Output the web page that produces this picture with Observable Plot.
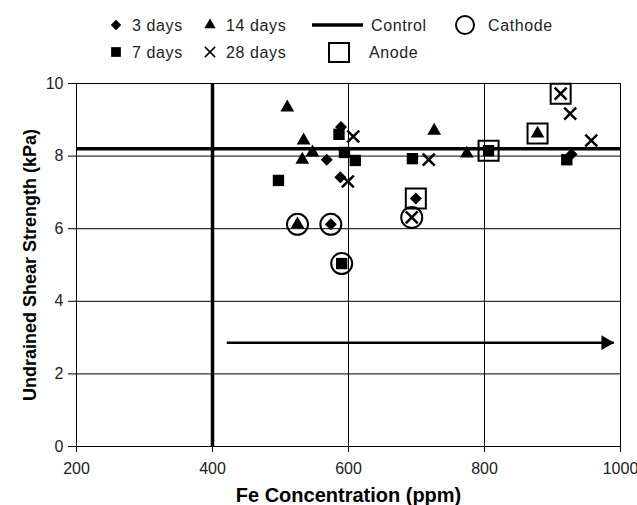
<!DOCTYPE html>
<html>
<head>
<meta charset="utf-8">
<script src="https://cdn.jsdelivr.net/npm/d3@7"></script>
<script src="https://cdn.jsdelivr.net/npm/@observablehq/plot@0.6"></script>
<style>
  html, body { margin: 0; padding: 0; background: #fff; }
  #wrap { position: relative; width: 637px; height: 505px; font-family: "Liberation Sans", Arial, sans-serif; }
  #wrap > svg { position: absolute; left: 0; top: 0; }
</style>
</head>
<body>
<div id="wrap"></div>
<script>
// Axis ticks
const xTicks = [200, 400, 600, 800, 1000];
const yTicks = [0, 2, 4, 6, 8, 10];

// Fe concentration (ppm) and undrained shear strength (kPa) by curing time
const fe3 = [568, 588, 589, 574, 699, 928];
const kpa3 = [7.9, 7.42, 8.8, 6.12, 6.83, 8.05];

const fe7 = [497, 586, 594, 610, 694, 590, 806, 921];
const kpa7 = [7.33, 8.6, 8.1, 7.88, 7.93, 5.04, 8.15, 7.9];

const fe14 = [510, 534, 547, 532, 525, 726, 774, 878];
const kpa14 = [9.34, 8.43, 8.1, 7.9, 6.12, 8.7, 8.07, 8.62];

const fe28 = [607, 599, 718, 693, 912, 926, 957];
const kpa28 = [8.54, 7.3, 7.9, 6.31, 9.72, 9.17, 8.43];

// Samples taken near the cathode and the anode
const cathodeFe = [525, 574, 590, 693];
const cathodeKpa = [6.12, 6.12, 5.04, 6.31];
const anodeFe = [699, 806, 878, 912];
const anodeKpa = [6.83, 8.15, 8.62, 9.72];

// Reference levels
const controlKpa = 8.2;
const initialFe = 400;
const trendFe = [421, 990];
const trendKpa = 2.86;

const toRows = (xs, ys) => xs.map((x, i) => ({x, y: ys[i]}));
const tickText = {fill: "#222", fontSize: 16, letterSpacing: "0.4px"};

const chart = Plot.plot({
  width: 637,
  height: 505,
  marginLeft: 76,
  marginRight: 17,
  marginTop: 83,
  marginBottom: 59,
  style: {fontFamily: "'Liberation Sans', Arial, sans-serif", fontSize: "16px", background: "#fff", color: "#222"},
  x: {domain: [200, 1000], ticks: xTicks, label: null},
  y: {domain: [0, 10], ticks: yTicks, label: null},
  marks: [
    Plot.gridX(xTicks.filter(d => d > 200), {stroke: "#000", strokeOpacity: 1, strokeWidth: 1}),
    Plot.gridY(yTicks.filter(d => d > 0), {stroke: "#000", strokeOpacity: 1, strokeWidth: 1}),
    Plot.axisX({ticks: xTicks, tickSize: 6, tickPadding: 10, stroke: "#000", label: null, tickFormat: d => String(d), ...tickText}),
    Plot.axisY({ticks: yTicks, tickSize: 8, tickPadding: 5, stroke: "#000", label: null, tickFormat: d => String(d), ...tickText}),
    Plot.ruleY([0], {stroke: "#000"}),
    Plot.ruleX([200], {stroke: "#000"}),
    Plot.ruleX([initialFe], {stroke: "#000", strokeWidth: 3.5}),
    Plot.ruleY([controlKpa], {stroke: "#000", strokeWidth: 3.5}),
    // trend arrow
    Plot.link([{x1: trendFe[0], x2: trendFe[1], y: trendKpa}], {x1: "x1", x2: "x2", y1: "y", y2: "y", stroke: "#000", strokeWidth: 2.5}),
    Plot.dot([{x: trendFe[1], y: trendKpa}], {x: "x", y: "y", symbol: "triangle", r: 5.5, rotate: 90, dx: -8, fill: "#000", stroke: "none"}),
    // data
    Plot.dot(toRows(fe3, kpa3), {x: "x", y: "y", symbol: "diamond2", r: 5.4, fill: "#000", stroke: "none"}),
    Plot.dot(toRows(fe7, kpa7), {x: "x", y: "y", symbol: "square", r: 6.4, fill: "#000", stroke: "none"}),
    Plot.dot(toRows(fe14, kpa14), {x: "x", y: "y", symbol: "triangle", r: 5.1, fill: "#000", stroke: "none"}),
    Plot.dot(toRows(fe28, kpa28), {x: "x", y: "y", symbol: "times", r: 5.5, fill: "none", stroke: "#000", strokeWidth: 2.5}),
    Plot.dot(toRows(cathodeFe, cathodeKpa), {x: "x", y: "y", symbol: "circle", r: 10.5, fill: "none", stroke: "#000", strokeWidth: 2}),
    Plot.dot(toRows(anodeFe, anodeKpa), {x: "x", y: "y", symbol: "square", r: 11.3, fill: "none", stroke: "#000", strokeWidth: 2}),
    // axis titles
    Plot.text(["Fe Concentration (ppm)"], {frameAnchor: "bottom", textAnchor: "middle", lineAnchor: "middle", dy: 49, fontWeight: "bold", fontSize: 20, letterSpacing: "1px", fill: "#000"}),
    Plot.text(["Undrained Shear Strength (kPa)"], {frameAnchor: "left", textAnchor: "middle", lineAnchor: "middle", dx: -46, rotate: -90, fontWeight: "bold", fontSize: 18, letterSpacing: "0.6px", fill: "#000"})
  ]
});

const wrap = document.getElementById("wrap");
wrap.appendChild(chart);

// Legend drawn above the plot area
const legend = d3.create("svg")
  .attr("width", 637).attr("height", 70)
  .style("font-family", "'Liberation Sans', Arial, sans-serif")
  .style("font-size", "16px")
  .style("letter-spacing", "0.6px");

const sym = (type, size) => d3.symbol(type, size)();
const row1 = 25, row2 = 52;

const items = [
  {shape: d3.symbolDiamond2, size: 70, x: 116, y: row1, label: "3 days", fill: true},
  {shape: d3.symbolTriangle, size: 55, x: 210, y: row1, label: "14 days", fill: true},
  {shape: d3.symbolSquare, size: 95, x: 116, y: row2, label: "7 days", fill: true},
  {shape: d3.symbolTimes, size: 70, x: 210, y: row2, label: "28 days", fill: false}
];
for (const it of items) {
  legend.append("path")
    .attr("d", sym(it.shape, it.size))
    .attr("transform", `translate(${it.x},${it.y})`)
    .attr("fill", it.fill ? "#000" : "none")
    .attr("stroke", it.fill ? "none" : "#000")
    .attr("stroke-width", 1.5);
  legend.append("text").attr("x", it.x + 16).attr("y", it.y).attr("dy", "0.35em").attr("fill", "#222").text(it.label);
}
legend.append("line").attr("x1", 312).attr("x2", 363).attr("y1", row1).attr("y2", row1)
  .attr("stroke", "#000").attr("stroke-width", 3.5);
legend.append("text").attr("x", 371).attr("y", row1).attr("dy", "0.35em").attr("fill", "#222").text("Control");
legend.append("circle").attr("cx", 465).attr("cy", row1).attr("r", 9)
  .attr("fill", "none").attr("stroke", "#000").attr("stroke-width", 2);
legend.append("text").attr("x", 488).attr("y", row1).attr("dy", "0.35em").attr("fill", "#222").text("Cathode");
legend.append("rect").attr("x", 329).attr("y", row2 - 9).attr("width", 20).attr("height", 19)
  .attr("fill", "none").attr("stroke", "#000").attr("stroke-width", 2);
legend.append("text").attr("x", 369).attr("y", row2).attr("dy", "0.35em").attr("fill", "#222").text("Anode");

wrap.appendChild(legend.node());
</script>
</body>
</html>
